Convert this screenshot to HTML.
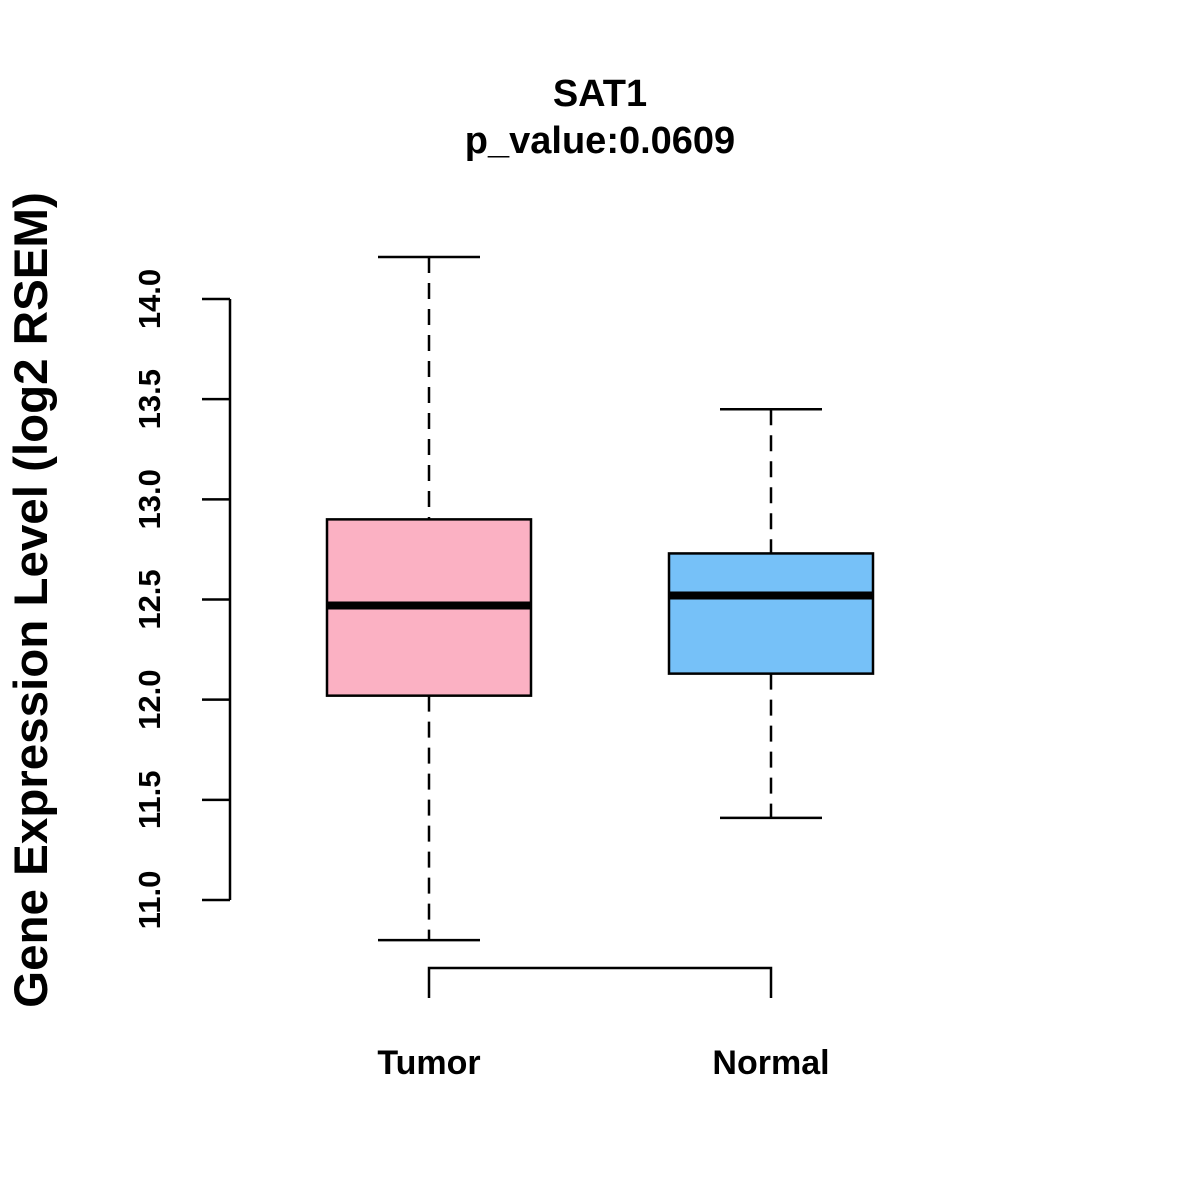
<!DOCTYPE html>
<html><head><meta charset="utf-8"><style>body{margin:0;background:#fff}svg{display:block}text{font-family:"Liberation Sans",Arial,sans-serif;font-weight:bold}</style></head>
<body>
<svg id="c" width="1200" height="1200">
<text x="600" y="106" text-anchor="middle" font-size="38">SAT1</text>
<text x="600" y="153" text-anchor="middle" font-size="38">p_value:0.0609</text>
<text transform="translate(47,600) rotate(-90)" text-anchor="middle" font-size="47.5">Gene Expression Level (log2 RSEM)</text>
<g id="g"></g>
</svg>
<script>
const categories=["Tumor","Normal"];
const maxs=[14.21,13.45];
const q3s=[12.90,12.73];
const medians=[12.47,12.52];
const q1s=[12.02,12.13];
const mins=[10.80,11.41];
const fills=["#FBB1C3","#76C1F8"];
const yTicks=[11.0,11.5,12.0,12.5,13.0,13.5,14.0];
const yTickLabels=["11.0","11.5","12.0","12.5","13.0","13.5","14.0"];
const NS="http://www.w3.org/2000/svg",g=document.getElementById('g');
const y=v=>900-(v-11)*200.33;
const x=i=>429+i*342;
function mk(t,a){const e=document.createElementNS(NS,t);for(const k in a)e.setAttribute(k,a[k]);g.appendChild(e);return e;}
let e=mk('line',{x1:230,x2:230,y1:y(yTicks[0]),y2:y(yTicks[yTicks.length-1]),stroke:'#000','stroke-width':2.5});


yTicks.forEach((t,i)=>{
 let l=mk('line',{x1:202,x2:230,y1:y(t),y2:y(t),stroke:'#000','stroke-width':2.5});
 
 
 let tx=mk('text',{transform:`translate(160,${y(t)}) rotate(-90)`,'text-anchor':'middle','font-size':31});
 tx.textContent=yTickLabels[i];
 
 
});
let ax=mk('path',{d:`M${x(0)},998V968H${x(1)}V998`,fill:'none',stroke:'#000','stroke-width':2.5});


categories.forEach((c,i)=>{
 const cx=x(i);
 let w1=mk('line',{x1:cx,x2:cx,y1:y(maxs[i]),y2:y(q3s[i]),stroke:'#000','stroke-width':2.5,'stroke-dasharray':'16,10'});
 
 
 let w2=mk('line',{x1:cx,x2:cx,y1:y(q1s[i]),y2:y(mins[i]),stroke:'#000','stroke-width':2.5,'stroke-dasharray':'16,10'});
 
 
 let c1=mk('line',{x1:cx-51,x2:cx+51,y1:y(maxs[i]),y2:y(maxs[i]),stroke:'#000','stroke-width':2.5});
 
 
 let c2=mk('line',{x1:cx-51,x2:cx+51,y1:y(mins[i]),y2:y(mins[i]),stroke:'#000','stroke-width':2.5});
 
 
 let b=mk('rect',{x:cx-102,width:204,y:y(q3s[i]),height:y(q1s[i])-y(q3s[i]),fill:fills[i],stroke:'#000','stroke-width':2.5});
 
 
 let m=mk('line',{x1:cx-102,x2:cx+102,y1:y(medians[i]),y2:y(medians[i]),stroke:'#000','stroke-width':8});
 
 
 let t=mk('text',{x:cx,y:1074,'text-anchor':'middle','font-size':34});
 t.textContent=c;
 
 
});
</script>
</body></html>
